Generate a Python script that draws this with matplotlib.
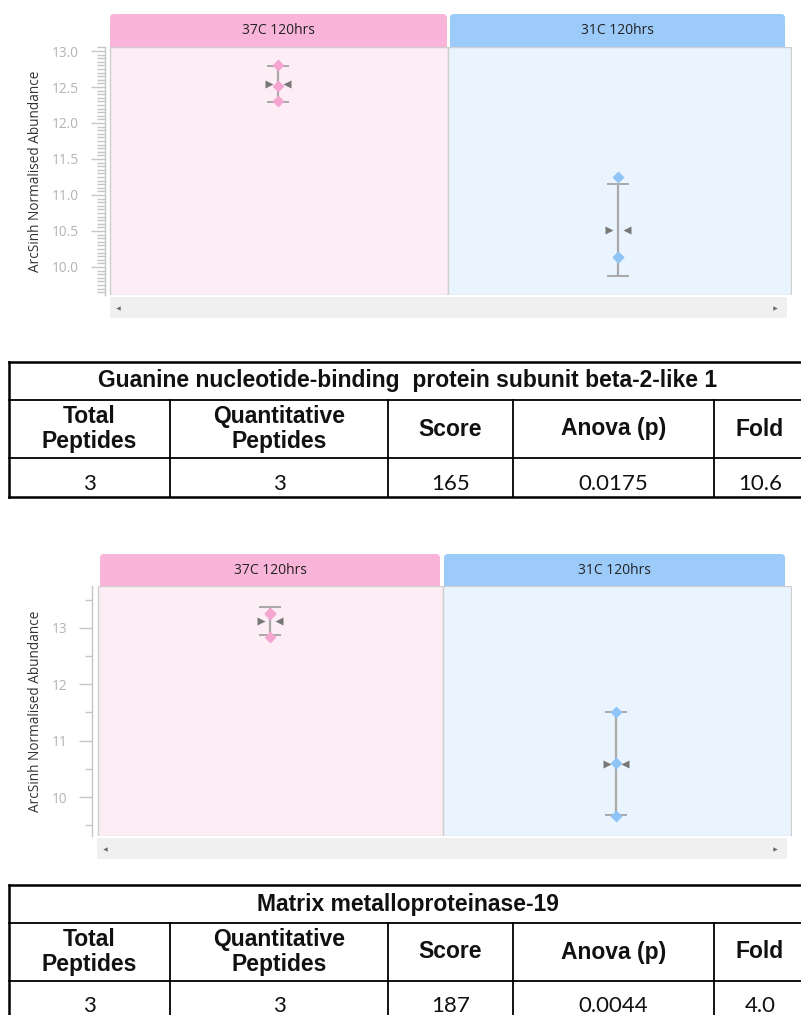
import numpy as np
import matplotlib
matplotlib.use("Agg")
import matplotlib.pyplot as plt
from matplotlib.patches import Rectangle, FancyBboxPatch
from matplotlib.transforms import offset_copy

W, H, DPI = 801, 1015, 100

# ---- data -------------------------------------------------------------
groups = ["37C 120hrs", "31C 120hrs"]

gnb_37c = [12.81, 12.51, 12.31]
gnb_31c = [11.25, 10.14, 10.14]
mmp_37c = [13.27, 13.25, 12.84]
mmp_31c = [11.50, 10.61, 9.67]

table_headers = ["Total\nPeptides", "Quantitative\nPeptides", "Score", "Anova (p)", "Fold"]
gnb_title = "Guanine nucleotide-binding  protein subunit beta-2-like 1"
gnb_row = ["3", "3", "165", "0.0175", "10.6"]
mmp_title = "Matrix metalloproteinase-19"
mmp_row = ["3", "3", "187", "0.0044", "4.0"]

ylabel = "ArcSinh Normalised Abundance"

# ---- style ------------------------------------------------------------
tab_colors = ["#F9B4D9", "#9CCBFA"]
bg_colors = ["#FDEEF6", "#EAF4FE"]
point_colors = ["#F4A6D0", "#8EC4F6"]
bar_gray = "#A9A9A9"
mean_gray = "#777777"
axis_gray = "#C6C6C6"
label_gray = "#B3B3B3"
ui_font = ["Open Sans", "DejaVu Sans"]

fig = plt.figure(figsize=(W / DPI, H / DPI), dpi=DPI)

# full-figure pixel canvas for the window chrome and the tables
ov = fig.add_axes([0, 0, 1, 1])
ov.set_xlim(0, W)
ov.set_ylim(H, 0)
ov.axis("off")


def fig_box(x0, y0, x1, y1):
    return [x0 / W, 1 - y1 / H, (x1 - x0) / W, (y1 - y0) / H]


def draw_chart(series, spine_x, panel_x0, panel_x1, centers, top, bottom,
               ylim, major, minor, fmt, major_len, minor_len, pad, tabs,
               tab_top, scroll, ylabel_x):
    ax = fig.add_axes(fig_box(spine_x, top, panel_x1, bottom))
    ax.set_facecolor("none")
    c0, c1 = centers
    unit = c1 - c0
    to_data = lambda px: (px - c0) / unit
    ax.set_xlim(to_data(spine_x), to_data(panel_x1))
    ax.set_ylim(*ylim)

    spans = [(to_data(panel_x0), 0.5), (0.5, to_data(panel_x1) - 0.002)]
    for i, (a, b) in enumerate(spans):
        ax.axvspan(a, b, facecolor=bg_colors[i], edgecolor="#CFCFCF",
                   lw=1.0, zorder=0)

    for s in ["top", "right", "bottom"]:
        ax.spines[s].set_visible(False)
    ax.spines["left"].set_color(axis_gray)
    ax.spines["left"].set_linewidth(1.0)
    ax.set_xticks([])
    ax.set_yticks(major)
    ax.set_yticklabels([fmt.format(v) for v in major])
    ax.set_yticks(minor, minor=True)
    ax.tick_params(axis="y", which="major", length=major_len, width=1.0,
                   color=axis_gray, labelcolor=label_gray, labelsize=9.8,
                   pad=pad)
    ax.tick_params(axis="y", which="minor", length=minor_len, width=1.0,
                   color=axis_gray)
    for lab in ax.get_yticklabels():
        lab.set_family(ui_font)

    left_tri = offset_copy(ax.transData, fig=fig, x=-6.3, y=0, units="points")
    right_tri = offset_copy(ax.transData, fig=fig, x=6.3, y=0, units="points")
    for i, vals in enumerate(series):
        vals = np.asarray(vals)
        m = vals.mean()
        s = vals.std(ddof=1)
        ax.errorbar(i, m, yerr=s, fmt="none", ecolor=bar_gray, elinewidth=1.6,
                    capsize=8, capthick=1.4, zorder=2)
        ax.plot(np.full(len(vals), i), vals, "D", ms=6, color=point_colors[i],
                mec="none", zorder=3)
        ax.plot(i, m, ">", ms=6, color=mean_gray, mec="none",
                transform=left_tri, zorder=4)
        ax.plot(i, m, "<", ms=6, color=mean_gray, mec="none",
                transform=right_tri, zorder=4)

    # group tabs
    for i, (x0, x1) in enumerate(tabs):
        ov.add_patch(FancyBboxPatch((x0, tab_top), x1 - x0, top - tab_top,
                                    boxstyle="round,pad=0,rounding_size=4",
                                    facecolor=tab_colors[i], edgecolor="none"))
        ov.add_patch(Rectangle((x0, top - 6), x1 - x0, 6,
                               facecolor=tab_colors[i], edgecolor="none"))
        ov.text((x0 + x1) / 2, (tab_top + top) / 2, groups[i], ha="center",
                va="center", fontsize=10, color="#222222", family=ui_font)

    # scroll bar
    sx0, sx1, sy0, sy1 = scroll
    ov.add_patch(Rectangle((sx0, sy0), sx1 - sx0, sy1 - sy0,
                           facecolor="#F0F0F0", edgecolor="none"))
    ov.plot(sx0 + 8, (sy0 + sy1) / 2, "<", ms=3.2, color="#6A6A6A", mec="none")
    ov.plot(sx1 - 12, (sy0 + sy1) / 2, ">", ms=3.2, color="#6A6A6A", mec="none")

    fig.text(ylabel_x / W, 1 - ((top + bottom) / 2) / H, ylabel, rotation=90,
             ha="center", va="center", fontsize=9.8, color="#333333",
             family=ui_font)
    return ax


draw_chart([gnb_37c, gnb_31c], spine_x=105, panel_x0=110, panel_x1=792,
           centers=(278, 618), top=47, bottom=295, ylim=(9.61, 13.056),
           major=np.arange(10.0, 13.01, 0.5),
           minor=np.arange(9.65, 13.051, 0.05), fmt="{:.1f}",
           major_len=10, minor_len=5.5, pad=9,
           tabs=[(110, 447), (450, 785)], tab_top=14,
           scroll=(110, 787, 297, 318), ylabel_x=36)

draw_chart([mmp_37c, mmp_31c], spine_x=92, panel_x0=98, panel_x1=792,
           centers=(270, 616), top=586, bottom=836, ylim=(9.31, 13.74),
           major=np.arange(10, 14), minor=np.arange(9.5, 13.6, 0.5),
           fmt="{:.0f}", major_len=9.4, minor_len=5, pad=8.6,
           tabs=[(100, 440), (444, 785)], tab_top=554,
           scroll=(97, 787, 838, 859), ylabel_x=36)


# ---- summary tables ---------------------------------------------------
col_edges = [9, 170, 388, 513, 714, 806]


def draw_table(top, title, headers, row):
    rows = [top, top + 38, top + 96, top + 135]
    x0, x1 = col_edges[0], col_edges[-1]
    # horizontal rules
    for k, y in enumerate(rows):
        ov.plot([x0, x1], [y, y], color="black",
                lw=1.8 if k in (0, 3) else 1.3, solid_capstyle="projecting")
    # outer verticals
    ov.plot([x0, x0], [rows[0], rows[3]], color="black", lw=1.8)
    ov.plot([x1, x1], [rows[0], rows[3]], color="black", lw=1.8)
    # inner verticals (header and value rows only)
    for x in col_edges[1:-1]:
        ov.plot([x, x], [rows[1], rows[3]], color="black", lw=1.3)

    ov.text((x0 + x1) / 2, (rows[0] + rows[1]) / 2, title, ha="center",
            va="center", fontsize=16.5, fontweight="bold",
            family=["Liberation Sans", "DejaVu Sans"], color="#111111")
    for j, h in enumerate(headers):
        cx = (col_edges[j] + col_edges[j + 1]) / 2
        ov.text(cx, (rows[1] + rows[2]) / 2, h, ha="center", va="center",
                fontsize=16.5, fontweight="bold", linespacing=1.15,
                family=["Liberation Sans", "DejaVu Sans"], color="#111111")
        ov.text(cx, (rows[2] + rows[3]) / 2 + 6, row[j], ha="center",
                va="center", fontsize=16, family=["Lato", "DejaVu Sans"],
                color="#111111")


draw_table(362, gnb_title, table_headers, gnb_row)
draw_table(885, mmp_title, table_headers, mmp_row)

fig.savefig("out.png", dpi=DPI)
